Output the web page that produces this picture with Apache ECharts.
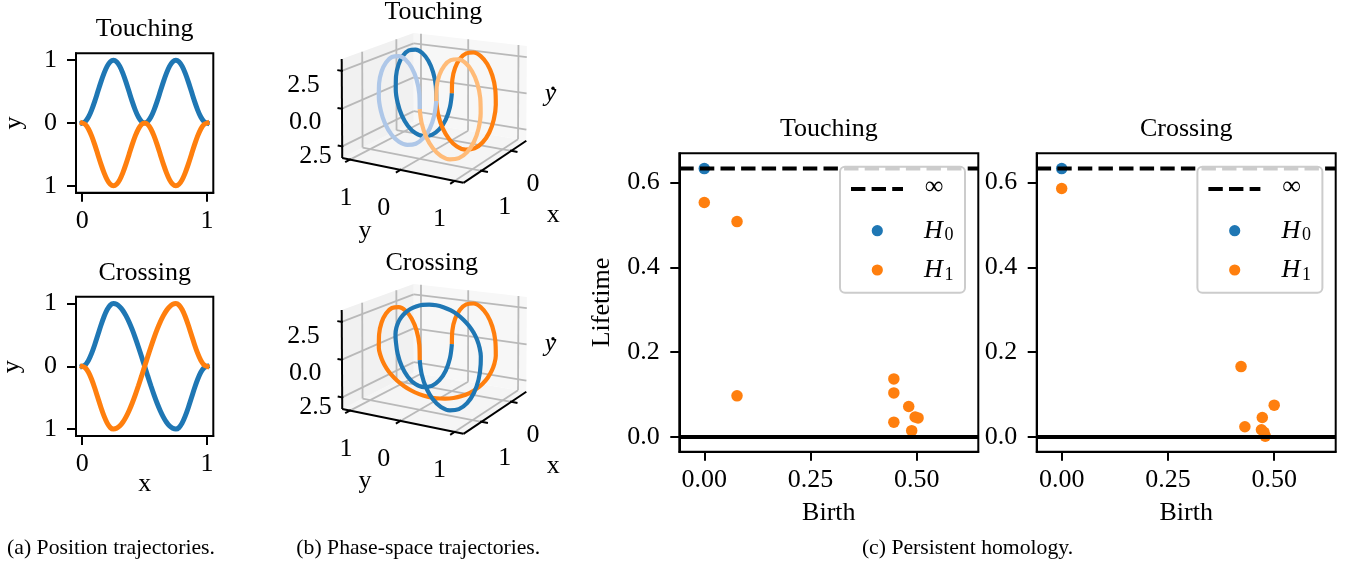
<!DOCTYPE html>
<html><head><meta charset="utf-8">
<script src="https://cdn.jsdelivr.net/npm/echarts@6/dist/echarts.min.js"></script>
<style>html,body{margin:0;padding:0;background:#fff}#c{width:1348px;height:565px}</style>
</head><body><div id="c"></div>
<script>
// ================= DATA =================
// (a) position trajectories, sampled along x
const posX = [0,.025,.05,.075,.1,.125,.15,.175,.2,.225,.25,.275,.3,.325,.35,.375,.4,.425,.45,.475,.5,.525,.55,.575,.6,.625,.65,.675,.7,.725,.75,.775,.8,.825,.85,.875,.9,.925,.95,.975,1];
const touchBlueY   = [0,.024,.095,.206,.345,.5,.655,.794,.905,.976,1,.976,.905,.794,.655,.5,.345,.206,.095,.024,0,.024,.095,.206,.345,.5,.655,.794,.905,.976,1,.976,.905,.794,.655,.5,.345,.206,.095,.024,0];
const touchOrangeY = [0,-.024,-.095,-.206,-.345,-.5,-.655,-.794,-.905,-.976,-1,-.976,-.905,-.794,-.655,-.5,-.345,-.206,-.095,-.024,0,-.024,-.095,-.206,-.345,-.5,-.655,-.794,-.905,-.976,-1,-.976,-.905,-.794,-.655,-.5,-.345,-.206,-.095,-.024,0];
const crossBlueY   = [0,.024,.095,.206,.345,.5,.655,.794,.905,.976,1,.988,.951,.891,.809,.707,.588,.454,.309,.156,0,-.156,-.309,-.454,-.588,-.707,-.809,-.891,-.951,-.988,-1,-.976,-.905,-.794,-.655,-.5,-.345,-.206,-.095,-.024,0];
const crossOrangeY = [0,-.024,-.095,-.206,-.345,-.5,-.655,-.794,-.905,-.976,-1,-.988,-.951,-.891,-.809,-.707,-.588,-.454,-.309,-.156,0,.156,.309,.454,.588,.707,.809,.891,.951,.988,1,.976,.905,.794,.655,.5,.345,.206,.095,.024,0];
// (b) phase-space third coordinate (y-dot)
const touchBlueYdot   = [0,-.97,-1.85,-2.54,-2.99,-3.14,-2.99,-2.54,-1.85,-.97,0,.97,1.85,2.54,2.99,3.14,2.99,2.54,1.85,.97,0,-.97,-1.85,-2.54,-2.99,-3.14,-2.99,-2.54,-1.85,-.97,0,.97,1.85,2.54,2.99,3.14,2.99,2.54,1.85,.97,0];
const touchOrangeYdot = [0,.97,1.85,2.54,2.99,3.14,2.99,2.54,1.85,.97,0,-.97,-1.85,-2.54,-2.99,-3.14,-2.99,-2.54,-1.85,-.97,0,.97,1.85,2.54,2.99,3.14,2.99,2.54,1.85,.97,0,-.97,-1.85,-2.54,-2.99,-3.14,-2.99,-2.54,-1.85,-.97,0];
const crossBlueYdot   = [0,-.97,-1.85,-2.54,-2.99,-3.14,-2.99,-2.54,-1.85,-.97,0,.49,.97,1.43,1.85,2.22,2.54,2.80,2.99,3.10,3.14,3.10,2.99,2.80,2.54,2.22,1.85,1.43,.97,.49,0,-.97,-1.85,-2.54,-2.99,-3.14,-2.99,-2.54,-1.85,-.97,0];
const crossOrangeYdot = [0,.97,1.85,2.54,2.99,3.14,2.99,2.54,1.85,.97,0,-.49,-.97,-1.43,-1.85,-2.22,-2.54,-2.80,-2.99,-3.10,-3.14,-3.10,-2.99,-2.80,-2.54,-2.22,-1.85,-1.43,-.97,-.49,0,.97,1.85,2.54,2.99,3.14,2.99,2.54,1.85,.97,0];
const halfIndex = 20;

// tick values & labels (labels as printed)
const posXTicks = [0,1], posXTickLabels = ['0','1'];
const posYTicks = [-1,0,1], posYTickLabels = ['1','0','1'];
const phaseYTicks = [-1,0,1], phaseYTickLabels = ['1','0','1'];
const phaseXTicks = [0,1], phaseXTickLabels = ['0','1'];
const phaseZTicks = [-2.5,0,2.5], phaseZTickLabels = ['2.5','0.0','2.5'];

// (c) persistence diagrams [birth, lifetime]
const touchH0 = [[0,0.633]];
const touchH1 = [[0,0.553],[0.077,0.508],[0.077,0.097],[0.446,0.137],[0.446,0.104],[0.481,0.072],[0.446,0.035],[0.496,0.047],[0.503,0.045],[0.488,0.015]];
const crossH0 = [[0,0.633]];
const crossH1 = [[0,0.586],[0.422,0.166],[0.500,0.075],[0.472,0.046],[0.431,0.024],[0.470,0.017],[0.476,0.011],[0.479,0.002]];
const infLifetime = 0.633;
const zeroLifetime = 0;
const birthTicks = [0,0.25,0.5], birthTickLabels = ['0.00','0.25','0.50'];
const lifeTicks = [0,0.2,0.4,0.6], lifeTickLabels = ['0.0','0.2','0.4','0.6'];

// ================= LAYOUT / STYLE =================
const FONT = '"Liberation Serif","Times New Roman",serif';
const BLUE='#1f77b4', ORANGE='#ff7f0e', LBLUE='#aec7e8', LORANGE='#ffbb78';
const posLimX=[-0.05,1.05], posLimY=[-1.11,1.11];
const birthLim=[-0.0588,0.6447], lifeLim=[-0.0347,0.669];

// 3D box ranges and camera calibration (top panel screen points)
const R3 = {y:[-1.16,1.16], x:[-0.55,1.55], z:[-3.27,3.27]};
const Y0=R3.y[0],Y1=R3.y[1],X0=R3.x[0],X1=R3.x[1],Z0=R3.z[0],Z1=R3.z[1];
const calib = [
 [Y1,X1,Z0,341.7,158.7],[Y1,X1,Z1,341.7,59],[Y0,X1,Z0,463.3,181.3],[Y0,X0,Z0,526.7,143],
 [Y0,X0,Z1,526.7,44],[Y1,X0,Z0,414,118],[Y1,X0,Z1,414,34.7],
 [1,X1,Z0,350,160.2],[0,X1,Z0,401.7,169.9],[-1,X1,Z0,455,179.8],
 [Y1,X1,2.5,341.7,70.7],[Y1,X1,0,341.7,109],[Y1,X1,-2.5,341.7,147],
 [Y0,1,Z0,481.7,170.7],[Y0,0,Z0,510,153]
];
const panelDy = [0,251];

function norm3(y,x,z){return [(y-Y0)/(Y1-Y0),(x-X0)/(X1-X0),(z-Z0)/(Z1-Z0)];}
function fitCamera(pts){
  const cu=430,cv=110,s=100,N=11,M=[],B=[];
  pts.forEach(pt=>{const [p,q,r]=norm3(pt[0],pt[1],pt[2]);const u=(pt[3]-cu)/s,v=(pt[4]-cv)/s;
    M.push([p,q,r,1,0,0,0,0,-u*p,-u*q,-u*r]);B.push(u);
    M.push([0,0,0,0,p,q,r,1,-v*p,-v*q,-v*r]);B.push(v);});
  const A=[];for(let a=0;a<N;a++){A.push(new Array(N+1).fill(0));}
  for(let i=0;i<M.length;i++)for(let a=0;a<N;a++){for(let b=0;b<N;b++)A[a][b]+=M[i][a]*M[i][b];A[a][N]+=M[i][a]*B[i];}
  for(let c=0;c<N;c++){let pv=c;for(let r=c+1;r<N;r++)if(Math.abs(A[r][c])>Math.abs(A[pv][c]))pv=r;
    const t=A[c];A[c]=A[pv];A[pv]=t;
    for(let r=0;r<N;r++){if(r===c)continue;const f=A[r][c]/A[c][c];for(let k=c;k<=N;k++)A[r][k]-=f*A[c][k];}}
  const m=A.map((row,i)=>row[N]/row[i]);
  return (y,x,z)=>{const [p,q,r]=norm3(y,x,z);const w=m[8]*p+m[9]*q+m[10]*r+1;
    return [(m[0]*p+m[1]*q+m[2]*r+m[3])/w*s+cu,(m[4]*p+m[5]*q+m[6]*r+m[7])/w*s+cv];};
}
const cam = fitCamera(calib);
const P = (y,x,z,dy)=>{const o=cam(y,x,z);return [o[0],o[1]+dy];};

// ================= BUILD =================
function labelFor(v,ticks,labels){for(let i=0;i<ticks.length;i++)if(Math.abs(ticks[i]-v)<1e-9)return labels[i];return '';}
const tickText={fontFamily:FONT,fontSize:26,color:'#000'};
function vAxis(gi,lim,ticks,labels,margin){
  return {gridIndex:gi,type:'value',min:lim[0],max:lim[1],
    axisLine:{show:true,onZero:false,lineStyle:{color:'#000',width:2}},
    axisTick:{show:true,length:9,lineStyle:{color:'#000',width:2},customValues:ticks},
    axisLabel:Object.assign({show:true,customValues:ticks,margin:margin,lineHeight:26,
      formatter:(v)=>labelFor(v,ticks,labels)},tickText),
    splitLine:{show:false},minorTick:{show:false},minorSplitLine:{show:false}};
}
const gridBox=(l,t,w,h)=>({left:l,top:t,width:w,height:h,show:true,borderColor:'#000',borderWidth:2,
  backgroundColor:'transparent',outerBoundsMode:'none',containLabel:false});

const grids=[gridBox(76,53.3,137.3,139.4),gridBox(76,296.7,137.3,139.3),
  gridBox(679.3,153.3,299,298.4),gridBox(1036.7,153.3,299,298.4),
  {left:0,top:0,width:1348,height:565,show:false,outerBoundsMode:'none',containLabel:false}];
const xAxes=[vAxis(0,posLimX,posXTicks,posXTickLabels,15),vAxis(1,posLimX,posXTicks,posXTickLabels,15),
  vAxis(2,birthLim,birthTicks,birthTickLabels,15.3),vAxis(3,birthLim,birthTicks,birthTickLabels,15.3),
  {gridIndex:4,type:'value',min:0,max:1348,show:false}];
const yAxes=[vAxis(0,posLimY,posYTicks,posYTickLabels,19),vAxis(1,posLimY,posYTicks,posYTickLabels,19),
  vAxis(2,lifeLim,lifeTicks,lifeTickLabels,19.5),vAxis(3,lifeLim,lifeTicks,lifeTickLabels,19.5),
  {gridIndex:4,type:'value',min:0,max:565,inverse:true,show:false}];

const series=[];
const zip=(xs,ys)=>xs.map((x,i)=>[x,ys[i]]);
function posLine(gi,ys,color){series.push({type:'line',xAxisIndex:gi,yAxisIndex:gi,data:zip(posX,ys),
  showSymbol:false,symbol:'none',smooth:0.3,lineStyle:{color,width:5,cap:'square'},silent:true});}
posLine(0,touchBlueY,BLUE);posLine(0,touchOrangeY,ORANGE);
posLine(1,crossBlueY,BLUE);posLine(1,crossOrangeY,ORANGE);

// ---- text helper ----
function txt(t,x,y,o){o=o||{};return {type:'text',x,y,rotation:o.rot||0,z:100,silent:true,
  style:{text:t,fill:'#000',font:(o.style||'')+' '+(o.size||26)+'px '+FONT,align:o.align||'center',verticalAlign:'middle'}};}

// ---- 3D panels ----
const panes=[], gridSegs=[], axisSegs=[], tickSegs=[];
const g3=[];
panelDy.forEach(dy=>{
  panes.push({fill:'#f5f5f5',pts:[P(Y0,X0,Z0,dy),P(Y1,X0,Z0,dy),P(Y1,X1,Z0,dy),P(Y0,X1,Z0,dy)]});
  panes.push({fill:'#f7f7f7',pts:[P(Y0,X0,Z0,dy),P(Y1,X0,Z0,dy),P(Y1,X0,Z1,dy),P(Y0,X0,Z1,dy)]});
  panes.push({fill:'#f1f1f1',pts:[P(Y1,X0,Z0,dy),P(Y1,X1,Z0,dy),P(Y1,X1,Z1,dy),P(Y1,X0,Z1,dy)]});
  phaseYTicks.forEach(y=>{gridSegs.push([P(y,X0,Z0,dy),P(y,X1,Z0,dy)]);gridSegs.push([P(y,X0,Z0,dy),P(y,X0,Z1,dy)]);});
  phaseXTicks.forEach(x=>{gridSegs.push([P(Y0,x,Z0,dy),P(Y1,x,Z0,dy)]);gridSegs.push([P(Y1,x,Z0,dy),P(Y1,x,Z1,dy)]);});
  phaseZTicks.forEach(z=>{gridSegs.push([P(Y0,X0,z,dy),P(Y1,X0,z,dy)]);gridSegs.push([P(Y1,X0,z,dy),P(Y1,X1,z,dy)]);});
  axisSegs.push([P(Y1,X1,Z0,dy),P(Y1,X1,Z1,dy)]);
  axisSegs.push([P(Y1,X1,Z0,dy),P(Y0,X1,Z0,dy)]);
  axisSegs.push([P(Y0,X1,Z0,dy),P(Y0,X0,Z0,dy)]);
  const ry=Y1-Y0, rx=X1-X0;
  const zOff=[[-26.7,10],[-36.7,13],[-38.2,14.3]];
  phaseZTicks.forEach((z,i)=>{tickSegs.push([P(Y1-0.01*ry,X1,z,dy),P(Y1+0.04*ry,X1,z,dy)]);
    const p=P(Y1,X1,z,dy);g3.push(txt(phaseZTickLabels[i],p[0]+zOff[i][0],p[1]+zOff[i][1]));});
  const yOff=[[-15,38.5],[-16.7,38.4],[-4,38.1]];
  phaseYTicks.forEach((y,i)=>{tickSegs.push([P(y,X1-0.01*rx,Z0,dy),P(y,X1+0.06*rx,Z0,dy)]);
    const p=P(y,X1,Z0,dy);g3.push(txt(phaseYTickLabels[i],p[0]+yOff[i][0],p[1]+yOff[i][1]));});
  const xOff=[[21.7,33.7],[23.3,36]];
  phaseXTicks.forEach((x,i)=>{tickSegs.push([P(Y0+0.01*ry,x,Z0,dy),P(Y0-0.05*ry,x,Z0,dy)]);
    const p=P(Y0,x,Z0,dy);g3.push(txt(phaseXTickLabels[i],p[0]+xOff[i][0],p[1]+xOff[i][1]));});
});
series.push({type:'custom',xAxisIndex:4,yAxisIndex:4,silent:true,clip:false,data:panes.map((_,i)=>[i,0]),
  renderItem:(params,api)=>{const pn=panes[params.dataIndex];
    return {type:'polygon',shape:{points:pn.pts.map(pt=>api.coord(pt))},style:{fill:pn.fill}};}});
const segSeries=(segs,color,width)=>({type:'lines',coordinateSystem:'cartesian2d',xAxisIndex:4,yAxisIndex:4,
  polyline:true,silent:true,data:segs.map(s=>({coords:s})),lineStyle:{color,width,opacity:1,curveness:0},effect:{show:false}});
series.push(segSeries(gridSegs,'#b9b9b9',1.8));
series.push(segSeries(axisSegs,'#000',2));
series.push(segSeries(tickSegs,'#000',2));

function curve3d(xs,ys,zs,from,to,dy,color){
  const d=[];for(let k=from;k<=to;k++)d.push(P(ys[k],xs[k],zs[k],dy));
  series.push({type:'line',xAxisIndex:4,yAxisIndex:4,data:d,showSymbol:false,symbol:'none',smooth:0.35,
    lineStyle:{color,width:4.2,cap:'butt'},silent:true});
}
const last=posX.length-1;
curve3d(posX,touchBlueY,touchBlueYdot,0,halfIndex,panelDy[0],BLUE);
curve3d(posX,touchOrangeY,touchOrangeYdot,0,halfIndex,panelDy[0],ORANGE);
curve3d(posX,touchBlueY,touchBlueYdot,halfIndex,last,panelDy[0],LBLUE);
curve3d(posX,touchOrangeY,touchOrangeYdot,halfIndex,last,panelDy[0],LORANGE);
curve3d(posX,crossOrangeY,crossOrangeYdot,0,last,panelDy[1],ORANGE);
curve3d(posX,crossBlueY,crossBlueYdot,0,last,panelDy[1],BLUE);

// ---- (c) persistence ----
function pers(gi,h0,h1){
  series.push({type:'line',xAxisIndex:gi,yAxisIndex:gi,data:[[birthLim[0],zeroLifetime],[birthLim[1],zeroLifetime]],
    showSymbol:false,symbol:'none',lineStyle:{color:'#000',width:3.9},silent:true});
  series.push({type:'line',xAxisIndex:gi,yAxisIndex:gi,data:[[birthLim[0],infLifetime],[birthLim[1],infLifetime]],
    showSymbol:false,symbol:'none',lineStyle:{color:'#000',width:3.9,type:[14.4,6.2]},silent:true});
  series.push({type:'scatter',xAxisIndex:gi,yAxisIndex:gi,data:h0,symbol:'circle',symbolSize:11.5,itemStyle:{color:BLUE,opacity:1},silent:true});
  series.push({type:'scatter',xAxisIndex:gi,yAxisIndex:gi,data:h1,symbol:'circle',symbolSize:11.5,itemStyle:{color:ORANGE,opacity:1},silent:true});
}
pers(2,touchH0,touchH1);pers(3,crossH0,crossH1);

// ---- text & legend graphics ----
const G=[].concat(g3);
G.push(txt('Touching',144.7,29),txt('Crossing',144.7,273.5));
G.push(txt('y',14.6,123,{rot:Math.PI/2}),txt('y',12.5,366.7,{rot:Math.PI/2}),txt('x',144.7,483.8));
G.push(txt('Touching',433.3,12.5),txt('Crossing',431.7,263.3));
panelDy.forEach((dy,i)=>{const d=i?250.5:0;
  G.push(txt('y',550.5,93.8+d,{style:'italic'}));
  G.push({type:'circle',z:100,silent:true,shape:{cx:553,cy:88.3+d,r:1.7},style:{fill:'#000'}});
  G.push(txt('x',553.3,215.4+d),txt('y',365,230.9+d));});
G.push(txt('Touching',828.8,129.5),txt('Crossing',1186.2,129.5));
G.push(txt('Lifetime',602.6,302.5,{rot:Math.PI/2}));
G.push(txt('Birth',828.8,513),txt('Birth',1186.2,513));
[0,357.4].forEach(ox=>{
  G.push({type:'rect',z:100,silent:true,shape:{x:840+ox,y:166.7,width:125,height:126,r:5},style:{fill:'rgba(255,255,255,0.8)',stroke:'#cccccc',lineWidth:2}});
  G.push({type:'line',z:101,silent:true,shape:{x1:851+ox,y1:189,x2:903+ox,y2:189},style:{stroke:'#000',lineWidth:3.9,lineDash:[14.4,6.2]}});
  G.push(Object.assign(txt('∞',934+ox,187.2),{z:101}));
  G.push({type:'circle',z:101,silent:true,shape:{cx:877.3+ox,cy:230.7,r:5.6},style:{fill:BLUE}});
  G.push({type:'circle',z:101,silent:true,shape:{cx:877.3+ox,cy:270,r:5.6},style:{fill:ORANGE}});
  G.push(Object.assign(txt('H',924+ox,231,{style:'italic',align:'left'}),{z:101}));
  G.push(Object.assign(txt('0',944.5+ox,235.5,{size:18,align:'left'}),{z:101}));
  G.push(Object.assign(txt('H',924+ox,270.4,{style:'italic',align:'left'}),{z:101}));
  G.push(Object.assign(txt('1',944.5+ox,275,{size:18,align:'left'}),{z:101}));
});
G.push(txt('(a) Position trajectories.',111,548,{size:21.7}));
G.push(txt('(b) Phase-space trajectories.',418.3,548,{size:21.7}));
G.push(txt('(c) Persistent homology.',967.5,548,{size:21.7}));

const chart=echarts.init(document.getElementById('c'),null,{renderer:'canvas',width:1348,height:565});
chart.setOption({animation:false,backgroundColor:'#fff',tooltip:{show:false},
  grid:grids,xAxis:xAxes,yAxis:yAxes,series:series,graphic:{elements:G}});
</script></body></html>
